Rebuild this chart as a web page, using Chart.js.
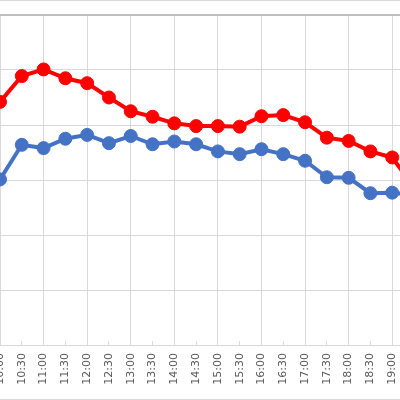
<!DOCTYPE html>
<html><head><meta charset="utf-8">
<script src="https://cdn.jsdelivr.net/npm/chart.js@4"></script>
<style>
html,body{margin:0;padding:0;background:#fff;overflow:hidden;}
#wrap{position:absolute;left:0;top:0;width:400px;height:400px;overflow:hidden;box-sizing:border-box;border-top:1px solid #d9d9d9;border-bottom:1px solid #d9d9d9;}
#box{position:absolute;left:0;top:-1px;width:440px;height:400px;}
</style></head><body>
<div id="wrap"><div id="box"><canvas id="c"></canvas></div></div>
<script>
const categories = ['10:00','10:30','11:00','11:30','12:00','12:30','13:00','13:30','14:00','14:30','15:00','15:30','16:00','16:30','17:00','17:30','18:00','18:30','19:00','19:30'];
const redValues  = [44.2, 48.9, 50.1, 48.5, 47.6, 45.0, 42.5, 41.5, 40.3, 39.8, 39.8, 39.7, 41.6, 41.8, 40.5, 37.7, 37.1, 35.2, 34.1, 28.7];
const blueValues = [30.1, 36.4, 35.8, 37.5, 38.2, 36.7, 38.0, 36.5, 37.0, 36.5, 35.2, 34.7, 35.6, 34.7, 33.5, 30.5, 30.4, 27.6, 27.7, 27.3];
const yTicks = [0, 10, 20, 30, 40, 50, 60];

new Chart(document.getElementById('c'), {
  type: 'line',
  data: {
    labels: categories,
    datasets: [
      {data: redValues, borderColor: '#FF0000', backgroundColor: '#FF0000', borderWidth: 4, pointRadius: 6.5, pointBorderWidth: 1, tension: 0, clip: false},
      {data: blueValues, borderColor: '#4472C4', backgroundColor: '#4472C4', borderWidth: 4, pointRadius: 6.5, pointBorderWidth: 1, tension: 0, clip: false}
    ]
  },
  options: {
    responsive: true,
    maintainAspectRatio: false,
    animation: false,
    layout: {autoPadding: false, padding: {left: 0, right: 26, top: 15, bottom: 0}},
    plugins: {legend: {display: false}, tooltip: {enabled: false}},
    scales: {
      x: {
        offset: false,
        grid: {
          color: c => (c.index % 2 === 0 ? '#d9d9d9' : 'rgba(0,0,0,0)'),
          tickColor: '#d9d9d9',
          tickLength: -4,
          drawTicks: true
        },
        border: {display: true, color: '#d9d9d9'},
        ticks: {autoSkip: false, minRotation: 90, maxRotation: 90, padding: 12, color: '#595959', font: {family: 'DejaVu Sans', size: 11}},
        afterFit(s) { s.height = 55; s.paddingLeft = 0; s.paddingRight = 0; }
      },
      y: {
        min: yTicks[0], max: yTicks[yTicks.length - 1],
        afterBuildTicks(s) { s.ticks = yTicks.map(v => ({value: v})); },
        ticks: {display: false},
        grid: {
          color: c => (c.tick && c.tick.value === 60 ? '#bfbfbf' : '#d9d9d9'),
          lineWidth: c => (c.tick && c.tick.value === 60 ? 2 : 1),
          drawTicks: false
        },
        border: {display: false},
        afterFit(s) { s.width = 0; s.paddingTop = 0; s.paddingBottom = 0; }
      }
    }
  }
});
</script>
</body></html>
